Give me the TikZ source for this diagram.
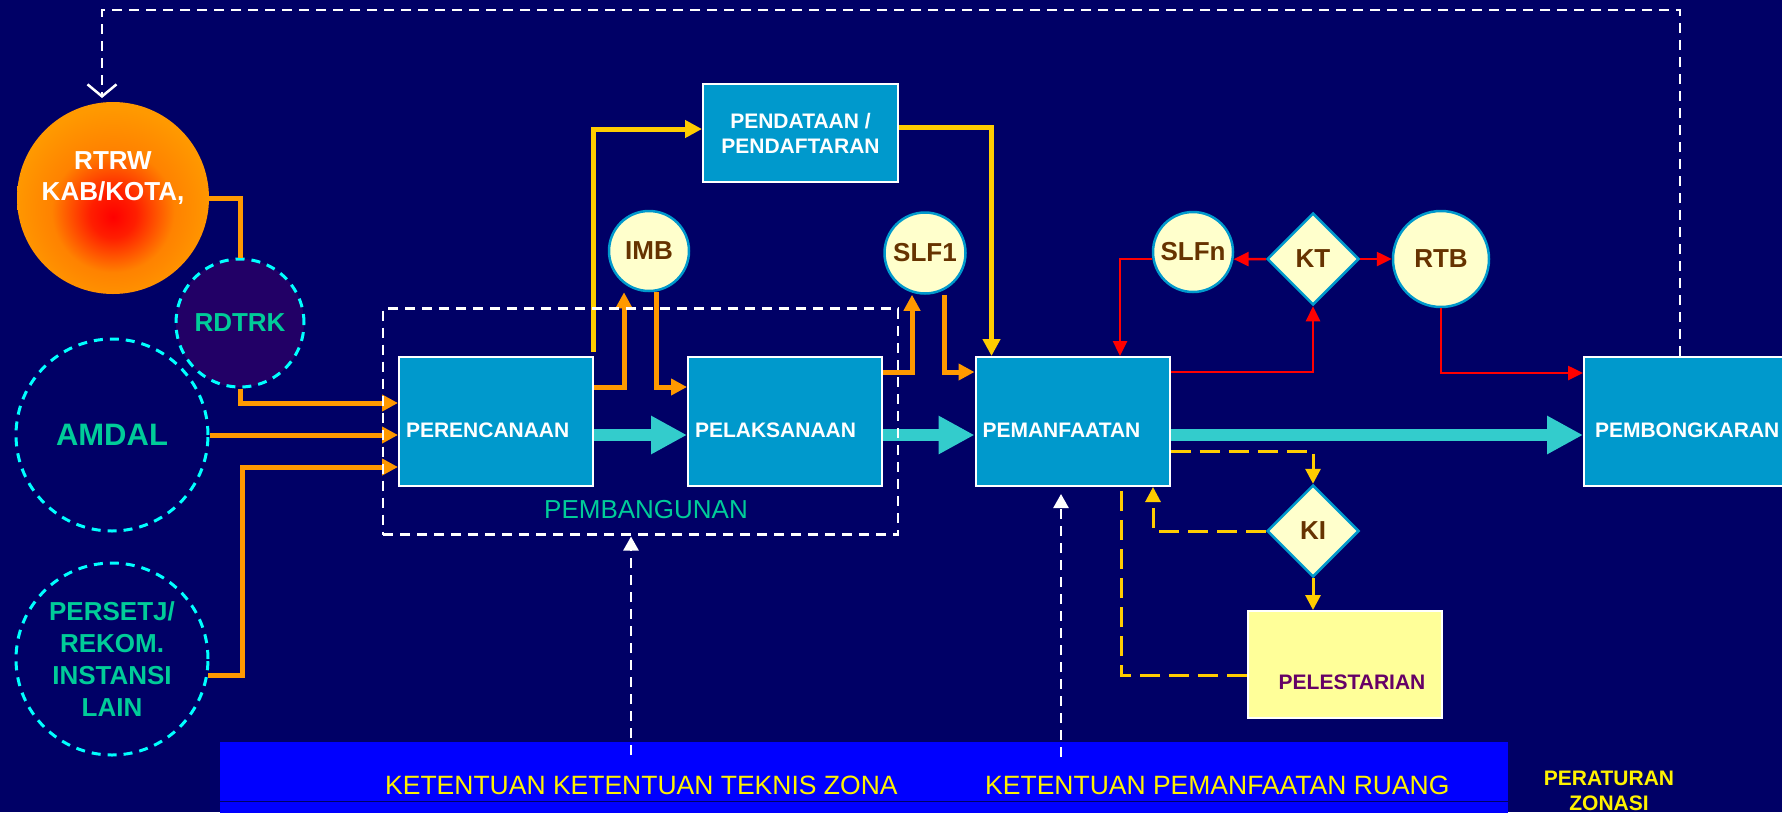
\documentclass[tikz,border=0pt]{standalone}
\usepackage{fontspec}
\setmainfont{Liberation Sans}
\usetikzlibrary{arrows.meta, shapes.geometric, positioning, fit}

\definecolor{fond}{HTML}{000066}
\definecolor{bleuboite}{HTML}{0099CC}
\definecolor{jaunepale}{HTML}{FFFFCC}
\definecolor{jaunepres}{HTML}{FFFF99}
\definecolor{orangeflux}{HTML}{FF9900}
\definecolor{jauneflux}{HTML}{FFCC00}
\definecolor{turquoise}{HTML}{33CCCC}
\definecolor{vertzone}{HTML}{00CC99}
\definecolor{cyanzone}{HTML}{00FFFF}
\definecolor{violetzone}{HTML}{220066}
\definecolor{brun}{HTML}{663300}
\definecolor{pourpre}{HTML}{660066}
\definecolor{bleubarre}{HTML}{0000FF}

% boule rouge-orange du RTRW
\pgfdeclareradialshading{sunball}{\pgfpoint{0bp}{-5bp}}{%
    color(0bp)=(red);
    color(6bp)=(red!80!orangeflux);
    color(16bp)=(orangeflux!85!red);
    color(26bp)=(orangeflux);
    color(50bp)=(orangeflux)}

\begin{document}
\begin{tikzpicture}[
        x=1pt, y=-1pt,
        boxbase/.style={
            draw=white,
            line width=2pt,
            fill=bleuboite,
            text=white,
            inner ysep=0pt,
            font=\fontsize{21}{25}\selectfont\bfseries
        },
        box/.style={
            boxbase,
            minimum height=129pt,
            text width=180pt,
            inner xsep=7pt,
            align=left,
            text height=31pt,
            text depth=0pt
        },
        regbox/.style={boxbase, minimum width=195pt, minimum height=98pt, align=center},
        stamp/.style={
            circle,
            draw=bleuboite,
            line width=2.5pt,
            fill=jaunepale,
            inner sep=0pt,
            minimum size=80pt,
            text=brun,
            font=\fontsize{26}{30}\selectfont\bfseries
        },
        decision/.style={stamp, diamond, minimum width=92pt, minimum height=92pt},
        zone/.style={
            circle,
            draw=cyanzone,
            line width=3pt,
            dash pattern=on 9pt off 7pt,
            minimum size=192pt,
            inner sep=0pt,
            align=center,
            text=vertzone,
            font=\fontsize{26}{32}\selectfont\bfseries
        },
        source/.style={circle, minimum size=192pt, shading=sunball},
        srctext/.style={text=white, align=center, yshift=20pt, font=\fontsize{26}{31}\selectfont\bfseries},
        presbox/.style={draw=white, line width=2pt, fill=jaunepres, minimum width=194pt, minimum height=107pt},
        prestext/.style={text=pourpre, xshift=7pt, yshift=-17.5pt, font=\fontsize{21}{25}\selectfont\bfseries},
        groupbox/.style={draw=white, line width=2.5pt, dash pattern=on 10pt off 7pt, inner xsep=15pt, inner ysep=47.5pt},
        caption/.style={text=vertzone, font=\fontsize{26}{30}\selectfont},
        ribbon/.style={fill=bleubarre, minimum width=1288pt, minimum height=90pt, inner sep=0pt},
        ribbontext/.style={text=yellow, inner sep=0pt, anchor=west, font=\fontsize{26.5}{30}\selectfont},
        zonetext/.style={text=yellow, align=center, inner sep=0pt, font=\fontsize{21}{25}\selectfont\bfseries},
        feedline/.style={draw=orangeflux, line width=5pt},
        feed/.style={feedline, -{Triangle[length=16pt, width=16pt]}},
        regflow/.style={draw=jauneflux, line width=5pt, -{Triangle[length=17pt, width=17pt]}},
        redflow/.style={draw=red, line width=2.5pt, -{Triangle[length=15pt, width=14pt]}},
        heritageline/.style={draw=jauneflux, line width=3pt, dash pattern=on 20pt off 9pt},
        heritage/.style={heritageline, -{Triangle[length=15pt, width=15pt]}},
        flow/.style={draw=turquoise, line width=12pt, -{Triangle[length=36pt, width=36pt]}},
        feedback/.style={draw=white, line width=2.5pt, dash pattern=on 10pt off 7pt}
    ]
        \useasboundingbox (0,0) rectangle (1782,812);
        \clip (0,0) rectangle (1782,812);
        \fill[fond] (0,0) rectangle (1782,812);

        % --- 1. Bandeau du bas ---
        \node[ribbon] (ribbon) at (864,787) {};
        \coordinate (seam) at (0,801);
        \draw[fond, line width=1pt] (ribbon.west |- seam) -- (ribbon.east |- seam);
        \node[ribbontext] (rule1) at (385,785) {KETENTUAN KETENTUAN TEKNIS ZONA};
        \node[ribbontext] (rule2) at (985,785) {KETENTUAN PEMANFAATAN RUANG};
        \node[zonetext] (zoning) at (1609,791) {PERATURAN\\ZONASI};

        % --- 2. Plans et documents d'entrée ---
        \node[source, label={[srctext]center:RTRW\\KAB/KOTA,}] (rtrw) at (113,198) {};
        \node[zone, fill=violetzone, minimum size=128pt] (rdtrk) at (240,323) {RDTRK};
        \node[zone, font=\fontsize{31}{36}\selectfont\bfseries] (amdal) at (112,435) {AMDAL};
        \node[zone] (persetj) at (112,659) {PERSETJ/\\REKOM.\\INSTANSI\\LAIN};

        % --- 3. Étapes principales ---
        \node[box] (plan) at (496,421.5) {PERENCANAAN};
        \node[box, right=93pt of plan] (exec) {PELAKSANAAN};
        \node[box, right=91.5pt of exec] (use) {PEMANFAATAN};
        \node[box, text width=200pt, inner xsep=11pt, right=412.5pt of use] (demol) {PEMBONGKARAN};
        \node[regbox] (reg) at (800.5,133) {PENDATAAN /\\PENDAFTARAN};

        % --- 4. Autorisations et contrôles ---
        \node[stamp] (imb) at (649,251) {IMB};
        \node[stamp, minimum size=81pt] (slf1) at (925,253) {SLF1};
        \node[stamp] (slfn) at (1193,252) {SLFn};
        \node[decision] (kt) at (1313,259) {KT};
        \node[stamp, minimum size=96pt] (rtb) at (1441,259) {RTB};
        \node[decision] (ki) at (1313,531) {KI};
        \node[presbox, label={[prestext]center:PELESTARIAN}] (pres) at (1345,664.5) {};

        % --- 5. Flux orange ---
        \draw[feedline] (rtrw.east) -| (rdtrk.north);
        \draw[feed] (rdtrk.south) |- ([yshift=18.5pt]plan.west);
        \draw[feed] (amdal.east) -- ([yshift=-13.5pt]plan.west);
        \draw[feed] (persetj.350) -- ++(34,0) |- ([yshift=-45.5pt]plan.west);
        \draw[feed] ([yshift=34.5pt]plan.east) -| ([xshift=-25pt]imb.south);
        \draw[feed] ([xshift=7pt]imb.south) |- ([yshift=34.5pt]exec.west);
        \draw[feed] ([yshift=49.5pt]exec.east) -| ([xshift=-13pt]slf1.south);
        \draw[feed] ([xshift=19pt]slf1.south) |- ([yshift=49.5pt]use.west);

        % --- 6. Pendataan ---
        \draw[regflow] ([xshift=-1pt, yshift=4pt]plan.north east) |- ([yshift=4pt]reg.west);
        \draw[regflow] ([yshift=6pt]reg.east) -| ([xshift=17pt]use.north west);

        % --- 7. Flux principal ---
        \draw[flow] ([yshift=-13.5pt]plan.east) -- ([yshift=-13.5pt]exec.west);
        \draw[flow] ([yshift=-13.5pt]exec.east) -- ([yshift=-13.5pt]use.west);
        \draw[flow] ([yshift=-13.5pt]use.east) -- ([yshift=-13.5pt]demol.west);

        % --- 8. Contrôle technique (rouge) ---
        \draw[redflow] (kt.west) -- (slfn.350);
        \draw[redflow] (kt.east) -- (rtb.west);
        \draw[redflow] (slfn.190) -| ([xshift=47.5pt]use.north);
        \draw[redflow] ([yshift=49.5pt]use.east) -| (kt.south);
        \draw[redflow] (rtb.south) |- ([yshift=48.5pt]demol.west);

        % --- 9. Pelestarian (pointillés) ---
        \draw[heritage] ([yshift=-29.5pt]use.east) -| (ki.north);
        \draw[heritage] (ki.west) -| ([xshift=80.5pt]use.south);
        \draw[heritage] (ki.south) -- (ki.south |- pres.north);
        \draw[heritageline] ([yshift=-10.5pt]pres.west) -| ([xshift=48.5pt]use.south);

        % --- 10. Retours ---
        \coordinate (loopturn) at (102,10);
        \coordinate (rtrwtop) at (102,98);
        \coordinate (bartop1) at (631,755);
        \coordinate (bartop2) at (1061,757);
        \draw[feedback, -{Straight Barb[length=12pt, width=29pt]}] ([xshift=97pt]demol.north west) |- (loopturn) -- (rtrwtop);
        \draw[feedback, -{Triangle[length=14pt, width=15pt]}, shorten >=3pt] (bartop1) -- (bartop1 |- plan.south |- 0,533.5);
        \draw[feedback, -{Triangle[length=14pt, width=15pt]}, shorten >=7pt] (bartop2) -- (bartop2 |- use.south);

        % --- 11. Cadre Pembangunan ---
        \node[groupbox, fit=(plan)(exec)] (group) {};
        \node[caption] (grouptitle) at (646,510) {PEMBANGUNAN};
    \end{tikzpicture}
\end{document}
